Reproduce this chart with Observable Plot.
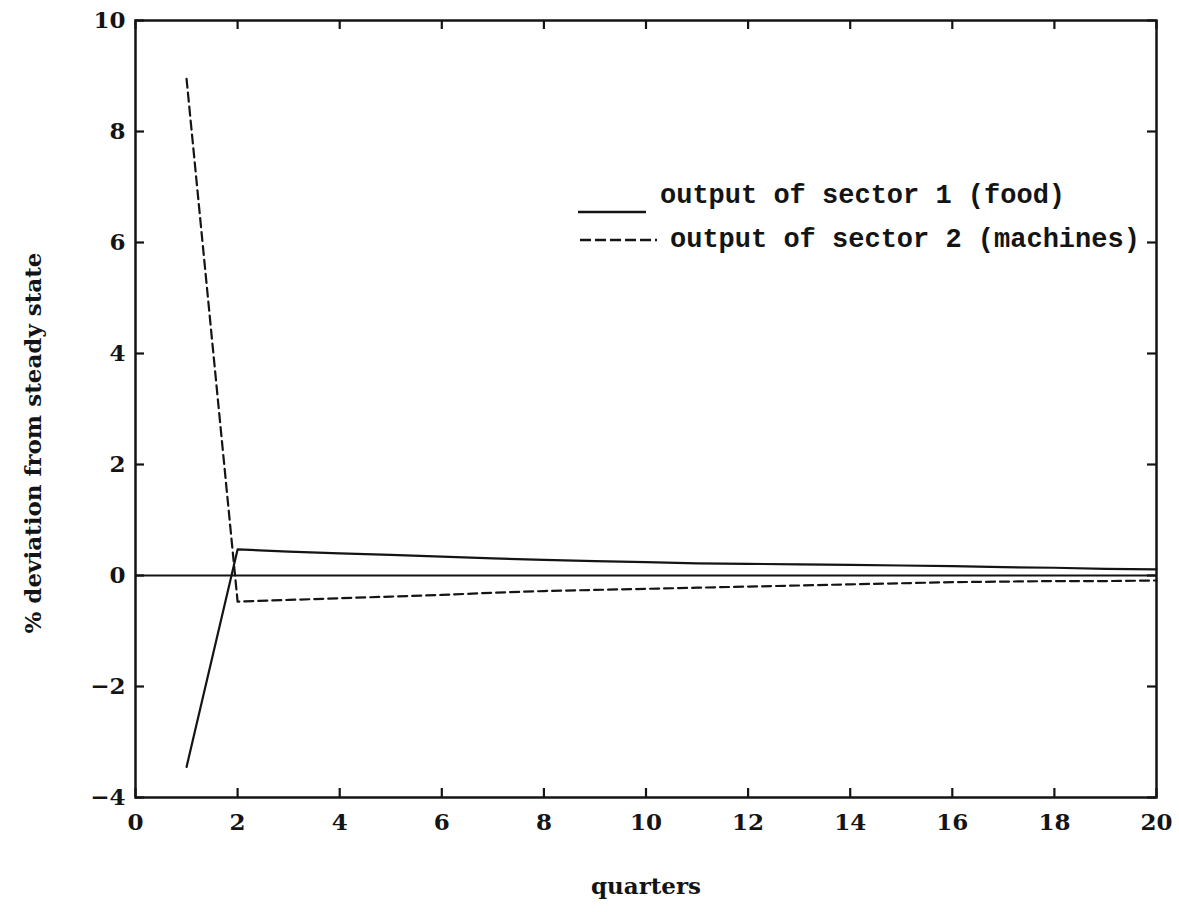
<!DOCTYPE html>
<html>
<head>
<meta charset="utf-8">
<script src="https://cdn.jsdelivr.net/npm/d3@7"></script>
<script src="https://cdn.jsdelivr.net/npm/@observablehq/plot@0.6"></script>
<style>
  body { margin: 0; background: #fff; }
  #wrap { position: relative; width: 1179px; height: 912px; }
  .legline { position: absolute; overflow: visible; }
</style>
</head>
<body>
<div id="wrap"></div>
<script>
// ---- data ----
const quarters = [1, 2, 3, 4, 5, 6, 7, 8, 9, 10, 11, 12, 13, 14, 15, 16, 17, 18, 19, 20];
const foodOutput = [-3.45, 0.47, 0.43, 0.40, 0.37, 0.34, 0.31, 0.28, 0.26, 0.24, 0.22, 0.21, 0.20, 0.19, 0.18, 0.17, 0.15, 0.14, 0.12, 0.11];
const machinesOutput = [8.95, -0.47, -0.44, -0.41, -0.38, -0.35, -0.31, -0.28, -0.26, -0.24, -0.22, -0.20, -0.18, -0.16, -0.14, -0.12, -0.11, -0.10, -0.10, -0.09];
const seriesNames = ["output of sector 1 (food)", "output of sector 2 (machines)"];
const xTicks = [0, 2, 4, 6, 8, 10, 12, 14, 16, 18, 20];
const yTicks = [-4, -2, 0, 2, 4, 6, 8, 10];
const xLabel = "quarters";
const yLabel = "% deviation from steady state";

const foodRows = quarters.map((q, i) => ({q, v: foodOutput[i]}));
const machRows = quarters.map((q, i) => ({q, v: machinesOutput[i]}));

const ink = "#141414";
const W = 1179, H = 912, mL = 135, mR = 23, mT = 20, mB = 115;
const plotW = W - mL - mR, plotH = H - mT - mB, tick = 9;

const chart = Plot.plot({
  width: W,
  height: H,
  marginLeft: mL,
  marginRight: mR,
  marginTop: mT,
  marginBottom: mB,
  style: {fontFamily: "'DejaVu Serif', serif", fontWeight: "bold", fontSize: "23px", color: ink, background: "#fff", overflow: "visible"},
  x: {domain: [0, 20]},
  y: {domain: [-4, 10]},
  marks: [
    Plot.frame({stroke: ink, strokeWidth: 2.5}),
    Plot.ruleY([0], {stroke: ink, strokeWidth: 2.2}),
    Plot.line(foodRows, {x: "q", y: "v", stroke: ink, strokeWidth: 2.2}),
    Plot.line(machRows, {x: "q", y: "v", stroke: ink, strokeWidth: 2.2, strokeDasharray: "9,5"}),
    // tick labels
    Plot.axisX({anchor: "bottom", ticks: xTicks, tickSize: 0, tickPadding: 16, label: null, fill: ink}),
    Plot.axisY({anchor: "left", ticks: yTicks, tickSize: 0, tickPadding: 10, label: null, fill: ink, tickFormat: d => String(d).replace("-", "\u2212")}),
    // inward ticks on all four sides
    Plot.ruleX(xTicks, {x: d => d, insetTop: plotH - tick, stroke: ink, strokeWidth: 2.2}),
    Plot.ruleX(xTicks, {x: d => d, insetBottom: plotH - tick, stroke: ink, strokeWidth: 2.2}),
    Plot.ruleY(yTicks, {y: d => d, insetRight: plotW - tick, stroke: ink, strokeWidth: 2.2}),
    Plot.ruleY(yTicks, {y: d => d, insetLeft: plotW - tick, stroke: ink, strokeWidth: 2.2}),
    // axis titles
    Plot.text([xLabel], {text: d => d, frameAnchor: "bottom", dy: 96, fontSize: 23, fill: ink}),
    Plot.text([yLabel], {text: d => d, frameAnchor: "left", textAnchor: "middle", rotate: -90, dx: -102, dy: 34, fontSize: 23, fill: ink})
  ]
});

const wrap = document.getElementById("wrap");
wrap.appendChild(chart);

// legend overlay (inside the plot frame, upper right)
const ns = "http://www.w3.org/2000/svg";
const leg = document.createElementNS(ns, "svg");
leg.setAttribute("class", "legline");
leg.setAttribute("width", W);
leg.setAttribute("height", H);
leg.style.left = "0px";
leg.style.top = "0px";
leg.style.pointerEvents = "none";
wrap.appendChild(leg);
function legendEntry(name, dash, lineX1, lineX2, lineY, textX, textBaseline) {
  const ln = document.createElementNS(ns, "line");
  ln.setAttribute("x1", lineX1); ln.setAttribute("x2", lineX2);
  ln.setAttribute("y1", lineY); ln.setAttribute("y2", lineY);
  ln.setAttribute("stroke", ink); ln.setAttribute("stroke-width", 2.5);
  if (dash) ln.setAttribute("stroke-dasharray", dash);
  leg.appendChild(ln);
  const tx = document.createElementNS(ns, "text");
  tx.setAttribute("x", textX); tx.setAttribute("y", textBaseline);
  tx.setAttribute("font-family", "'Liberation Mono', 'DejaVu Sans Mono', monospace");
  tx.setAttribute("font-weight", "bold");
  tx.setAttribute("font-size", 27);
  tx.setAttribute("fill", ink);
  tx.textContent = name;
  leg.appendChild(tx);
}
legendEntry(seriesNames[0], null, 578, 646, 212, 660, 203);
legendEntry(seriesNames[1], "11,4", 580, 657, 240, 670, 247);
</script>
</body>
</html>
